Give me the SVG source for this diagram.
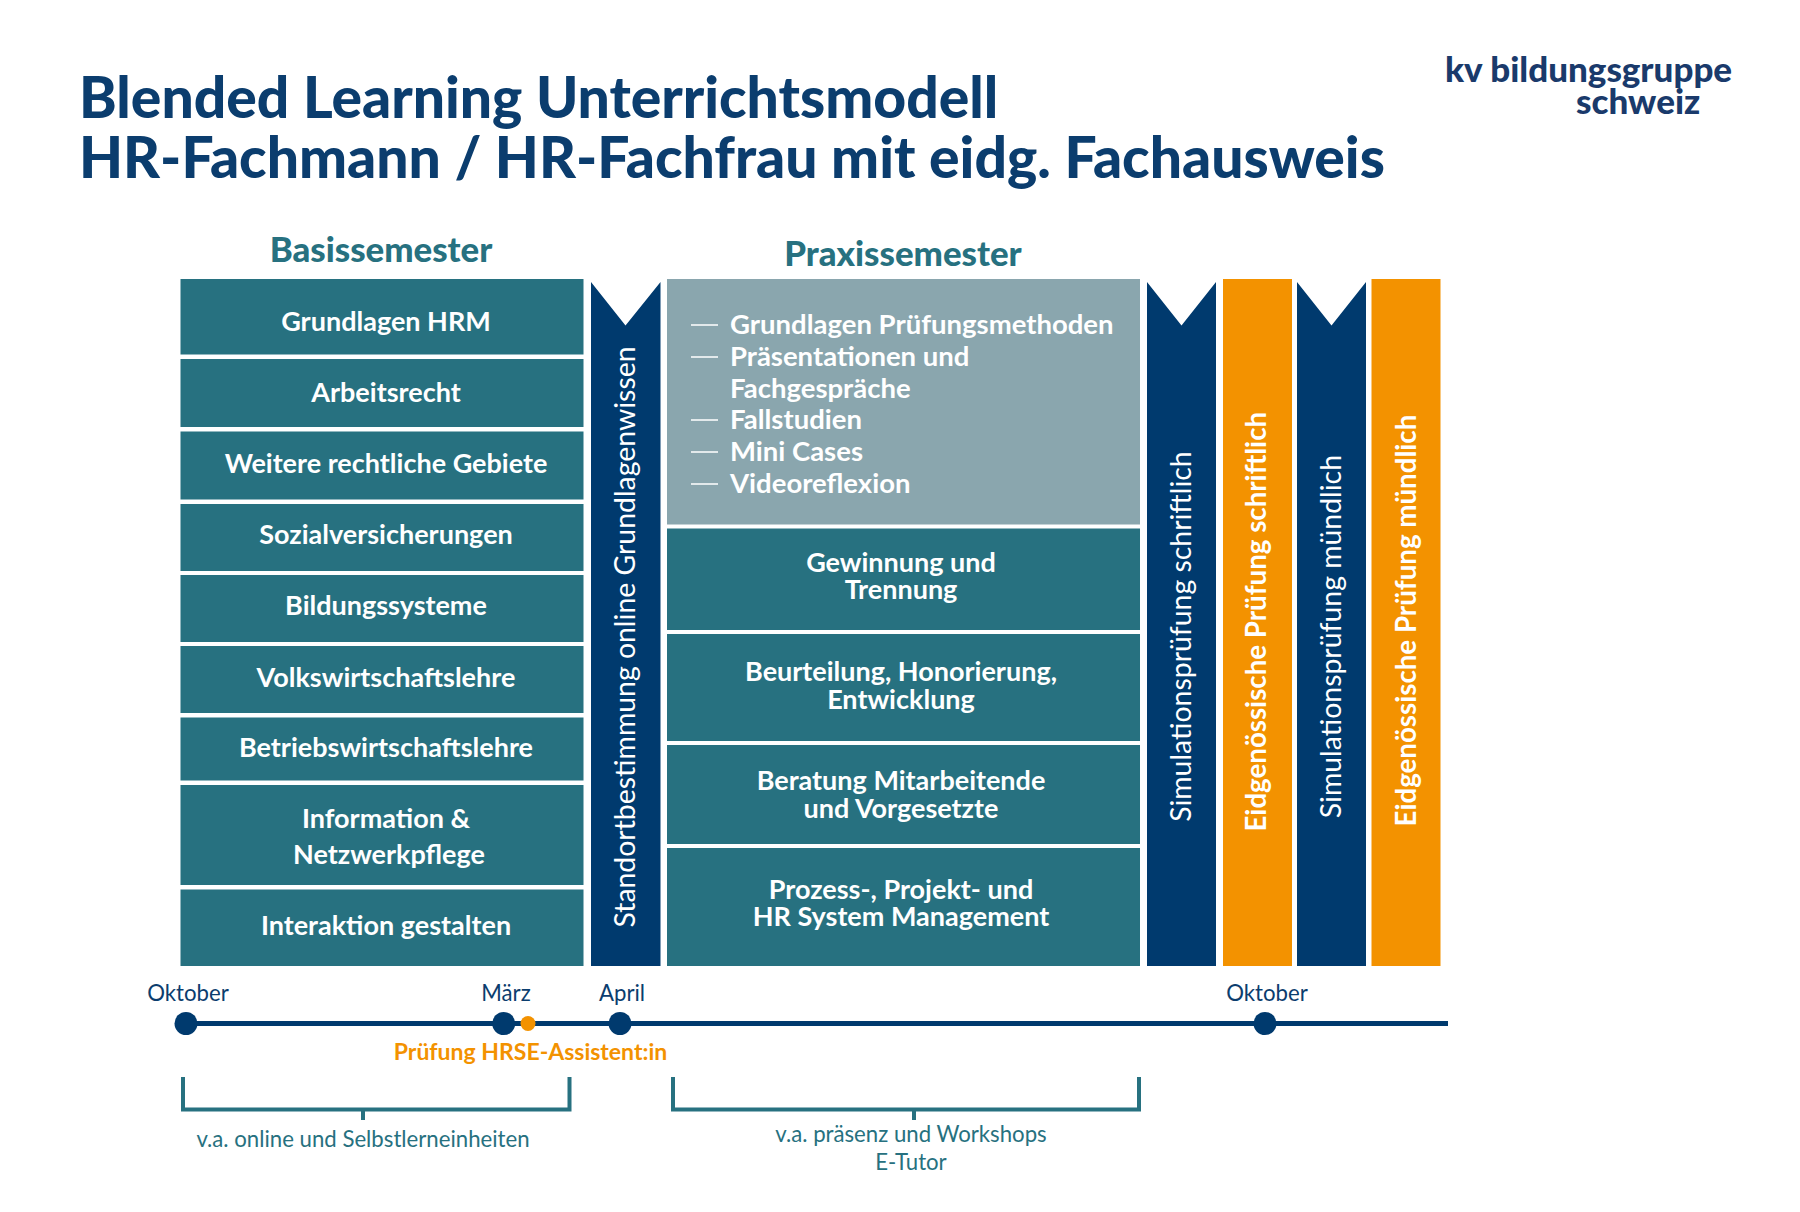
<svg xmlns="http://www.w3.org/2000/svg" width="1800" height="1212" viewBox="0 0 1800 1212">
<style>
text{font-family:"Lato","Open Sans","Liberation Sans",sans-serif}
.t{fill:#277180}.n{fill:#003a6e}.o{fill:#f39200}.g{fill:#8aa6ae}
.lb{font-size:27px;font-weight:700;fill:#fff;text-anchor:middle}
.v{font-size:28.400px;fill:#fff;text-anchor:middle}
.vb{font-size:27.700px;font-weight:700;fill:#fff;text-anchor:middle}
.title{font-size:57px;font-weight:900;fill:#0b3d6e}
.sem{font-size:34.800px;font-weight:900;fill:#277180;text-anchor:middle}
.tl{font-size:22.200px;fill:#0b3d6e;text-anchor:middle}
.br{font-size:22.200px;fill:#277180;text-anchor:middle}
.logo{font-size:35px;font-weight:900;fill:#1a3a6b}
.ln{stroke:#fff;stroke-width:1.5;fill:none}
.bk{stroke:#277180;stroke-width:4;fill:none}
</style>
<rect width="1800" height="1212" fill="#fff"/>
<g id="title"><text class="title" x="79" y="118">Blended Learning Unterrichtsmodell</text><text class="title" x="79" y="178">HR-Fachmann / HR-Fachfrau mit eidg. Fachausweis</text></g>
<g id="logo"><text class="logo" x="1445" y="82">kv bildungsgruppe</text><text class="logo" x="1576" y="114">schweiz</text></g>
<text class="sem" x="381" y="262">Basissemester</text>
<text class="sem" x="903" y="266">Praxissemester</text>
<g id="basis">
<g id="b1"><rect class="t" x="180.5" y="279" width="403" height="75.5"/><text class="lb" x="386" y="331">Grundlagen HRM</text></g>
<g id="b2"><rect class="t" x="180.5" y="359" width="403" height="68"/><text class="lb" x="386" y="402">Arbeitsrecht</text></g>
<g id="b3"><rect class="t" x="180.5" y="431.5" width="403" height="68"/><text class="lb" x="386" y="473">Weitere rechtliche Gebiete</text></g>
<g id="b4"><rect class="t" x="180.5" y="504" width="403" height="67"/><text class="lb" x="386" y="544">Sozialversicherungen</text></g>
<g id="b5"><rect class="t" x="180.5" y="575" width="403" height="67"/><text class="lb" x="386" y="615">Bildungssysteme</text></g>
<g id="b6"><rect class="t" x="180.5" y="646" width="403" height="67"/><text class="lb" x="386" y="687">Volkswirtschaftslehre</text></g>
<g id="b7"><rect class="t" x="180.5" y="717.5" width="403" height="63"/><text class="lb" x="386" y="757">Betriebswirtschaftslehre</text></g>
<g id="b8"><rect class="t" x="180.5" y="785" width="403" height="100"/><text class="lb" x="386" y="828">Information &amp;</text><text class="lb" x="389" y="864">Netzwerkpflege</text></g>
<g id="b9"><rect class="t" x="180.5" y="889.5" width="403" height="76.500"/><text class="lb" x="386" y="935">Interaktion gestalten</text></g>
</g>
<g id="s1"><path class="n" d="M591 282L625.5 325.5L660.5 282V966H591Z"/><text class="v" transform="translate(635 637) rotate(-90)">Standortbestimmung online Grundlagenwissen</text></g>
<g id="praxis">
<g id="p0"><rect class="g" x="667" y="279" width="473" height="245.5"/>
<path class="ln" d="M691 325H718M691 357H718M691 420H718M691 452H718M691 484H718"/>
<g style="font-size:27.500px;font-weight:700;fill:#fff"><text x="730" y="334">Grundlagen Prüfungsmethoden</text><text x="730" y="366">Präsentationen und</text><text x="730" y="398">Fachgespräche</text><text x="730" y="429">Fallstudien</text><text x="730" y="461">Mini Cases</text><text x="730" y="493">Videoreflexion</text></g></g>
<g id="p1"><rect class="t" x="667" y="528.5" width="473" height="101.5"/><text class="lb" x="901" y="572">Gewinnung und</text><text class="lb" x="901" y="599">Trennung</text></g>
<g id="p2"><rect class="t" x="667" y="634" width="473" height="107"/><text class="lb" x="901" y="681">Beurteilung, Honorierung,</text><text class="lb" x="901" y="709">Entwicklung</text></g>
<g id="p3"><rect class="t" x="667" y="745" width="473" height="99"/><text class="lb" x="901" y="790">Beratung Mitarbeitende</text><text class="lb" x="901" y="818">und Vorgesetzte</text></g>
<g id="p4"><rect class="t" x="667" y="848" width="473" height="118"/><text class="lb" x="901" y="899">Prozess-, Projekt- und</text><text class="lb" x="901" y="926">HR System Management</text></g>
</g>
<g id="s2"><path class="n" d="M1147 282L1181.5 325.500L1216 282V966H1147Z"/><text class="v" transform="translate(1191 636.600) rotate(-90)">Simulationsprüfung schriftlich</text></g>
<g id="e1"><rect class="o" x="1223" y="279" width="69" height="687"/><text class="vb" transform="translate(1266 621.700) rotate(-90)">Eidgenössische Prüfung schriftlich</text></g>
<g id="s3"><path class="n" d="M1297 282L1331.5 325.500L1366 282V966H1297Z"/><text class="v" transform="translate(1341 636.600) rotate(-90)">Simulationsprüfung mündlich</text></g>
<g id="e2"><rect class="o" x="1371.5" y="279" width="69" height="687"/><text class="vb" transform="translate(1416 620.600) rotate(-90)">Eidgenössische Prüfung mündlich</text></g>
<g id="connectors">
<path d="M186 1023.500H1448" stroke="#003a6e" stroke-width="5" fill="none"/>
<path class="bk" d="M183 1077V1109.500H569.500V1077M363 1109.500V1120"/>
<path class="bk" d="M673 1077V1109.500H1139V1077M914 1109.500V1120"/>
</g>
<g id="timeline">
<circle class="n" cx="186" cy="1023.500" r="11.500"/><circle class="n" cx="503.700" cy="1023.500" r="11.500"/><circle class="o" cx="528" cy="1023.500" r="7.500"/><circle class="n" cx="620" cy="1023.500" r="11.500"/><circle class="n" cx="1265" cy="1023.500" r="11.500"/>
<text class="tl" x="188" y="1001">Oktober</text><text class="tl" x="506" y="1001">März</text><text class="tl" x="622" y="1001">April</text><text class="tl" x="1267" y="1001">Oktober</text>
<text x="530.500" y="1060" text-anchor="middle" style="font-size:23px;font-weight:700;fill:#f39200">Prüfung HRSE-Assistent:in</text>
</g>
<text class="br" x="363" y="1147">v.a. online und Selbstlerneinheiten</text>
<text class="br" x="911" y="1142">v.a. präsenz und Workshops</text><text class="br" x="911" y="1170">E-Tutor</text>
</svg>
